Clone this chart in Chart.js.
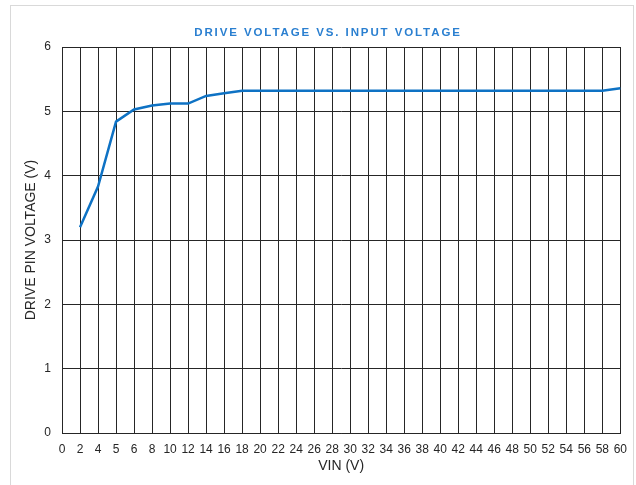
<!DOCTYPE html>
<html>
<head>
<meta charset="utf-8">
<script src="https://cdn.jsdelivr.net/npm/chart.js@4.4.1/dist/chart.umd.min.js"></script>
<style>
  html, body { margin: 0; padding: 0; background: #ffffff; }
  #wrap { width: 636px; height: 485px; position: relative; }
</style>
</head>
<body>
<div id="wrap"><canvas id="c" width="636" height="485"></canvas></div>
<script>
const chartTitle = 'DRIVE VOLTAGE VS. INPUT VOLTAGE';
const xAxisTitle = 'VIN (V)';
const yAxisTitle = 'DRIVE PIN VOLTAGE (V)';
const vinLabels = ['0','2','4','5','6','8','10','12','14','16','18','20','22','24','26','28','30','32','34','36','38','40','42','44','46','48','50','52','54','56','58','60'];
const drivePinVoltage = [null,3.2,3.83,4.84,5.03,5.09,5.12,5.12,5.24,5.28,5.32,5.32,5.32,5.32,5.32,5.32,5.32,5.32,5.32,5.32,5.32,5.32,5.32,5.32,5.32,5.32,5.32,5.32,5.32,5.32,5.32,5.36];
const yTicks = [0,1,2,3,4,5,6];

const tickFamily = '"Liberation Sans Narrow", "Liberation Sans", Arial, sans-serif';

const frameAndTitle = {
  id: 'frameAndTitle',
  beforeDraw(chart) {
    const ctx = chart.ctx;
    ctx.save();
    ctx.fillStyle = '#ffffff';
    ctx.fillRect(0, 0, chart.width, chart.height);
    ctx.strokeStyle = '#d9d9d9';
    ctx.lineWidth = 1;
    ctx.strokeRect(10.5, 5.5, 623, 500);
    ctx.restore();
  },
  afterDraw(chart) {
    const ctx = chart.ctx;
    ctx.save();
    ctx.font = 'bold 11.5px "Liberation Sans", Arial, sans-serif';
    try { ctx.letterSpacing = '1.9px'; } catch (e) {}
    ctx.fillStyle = '#2A7FD0';
    ctx.textAlign = 'center';
    ctx.textBaseline = 'middle';
    ctx.fillText(chartTitle, 328, 33);
    ctx.restore();
  }
};

new Chart(document.getElementById('c'), {
  type: 'line',
  data: {
    labels: vinLabels,
    datasets: [{
      data: drivePinVoltage,
      borderColor: '#0E72C4',
      backgroundColor: '#0E72C4',
      borderWidth: 2.5,
      pointRadius: 0,
      tension: 0,
      spanGaps: false
    }]
  },
  options: {
    responsive: false,
    animation: false,
    devicePixelRatio: 1,
    layout: { padding: { top: 47, right: 14, left: 0, bottom: 0 } },
    plugins: {
      legend: { display: false },
      tooltip: { enabled: false },
      title: { display: false }
    },
    scales: {
      x: {
        type: 'category',
        offset: false,
        grid: { color: '#262626', lineWidth: 1, drawTicks: false },
        border: { color: '#262626', width: 1 },
        ticks: {
          autoSkip: false, maxRotation: 0, minRotation: 0, padding: 9,
          color: '#262626',
          font: { family: tickFamily, size: 12 }
        },
        title: {
          display: true, text: xAxisTitle, color: '#262626',
          font: { family: '"Liberation Sans", Arial, sans-serif', size: 14 },
          padding: { top: 0, bottom: 10 }
        },
        afterFit(scale) { scale.height = 52; }
      },
      y: {
        min: 0, max: 6,
        afterBuildTicks(scale) { scale.ticks = yTicks.map(v => ({ value: v })); },
        grid: { color: '#262626', lineWidth: 1, drawTicks: false },
        border: { color: '#262626', width: 1 },
        ticks: {
          padding: 11, color: '#262626',
          font: { family: tickFamily, size: 12 }
        },
        title: {
          display: true, text: yAxisTitle, color: '#262626',
          font: { family: '"Liberation Sans", Arial, sans-serif', size: 14 },
          padding: { top: 23, bottom: 0 }
        },
        afterFit(scale) { scale.width = 62; }
      }
    }
  },
  plugins: [frameAndTitle]
});
</script>
</body>
</html>
